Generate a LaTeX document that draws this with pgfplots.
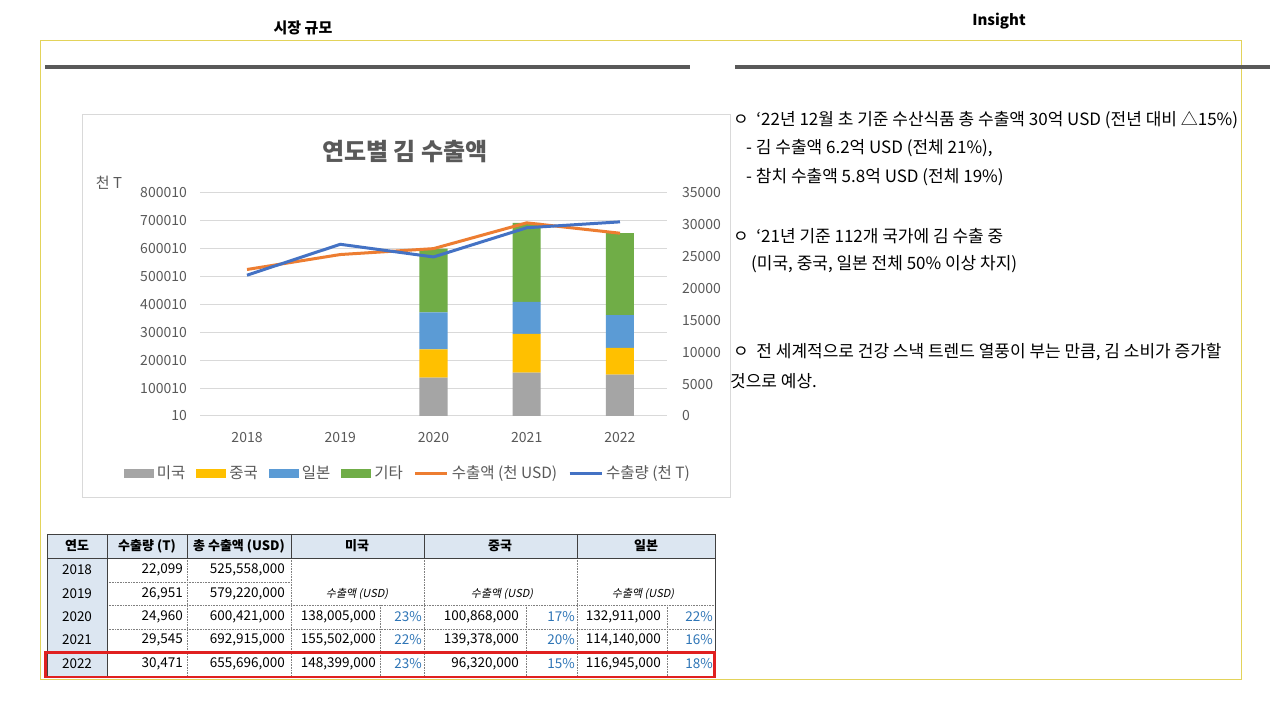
\documentclass[border=0pt]{standalone}
\usepackage{pgfplots}
\pgfplotsset{compat=1.18}
\usepackage{fontspec}
\setmainfont{Noto Sans CJK KR}
\newfontfamily\slantfont[FakeSlant=0.2]{Noto Sans CJK KR}
\definecolor{cgray}{HTML}{A5A5A5}
\definecolor{cyel}{HTML}{FFC000}
\definecolor{cblue}{HTML}{5B9BD5}
\definecolor{cgreen}{HTML}{70AD47}
\definecolor{corange}{HTML}{ED7D31}
\definecolor{lblue}{HTML}{4472C4}
\definecolor{labgray}{HTML}{595959}
\definecolor{gridgray}{HTML}{D9D9D9}
\definecolor{frameyel}{HTML}{E3D35A}
\definecolor{hdr}{HTML}{DCE6F1}
\definecolor{pct}{HTML}{2E75B6}
\definecolor{redbox}{HTML}{E02020}
\pgfplotsset{
  barleg/.style={legend image code/.code={\fill[##1] (0pt,-4.5pt) rectangle (30pt,4.5pt);}},
  lineleg/.style={legend image code/.code={\draw[##1] (0pt,0pt) -- (32pt,0pt);}},
}
\newcommand{\tf}{\fontsize{13.5}{16}\selectfont}
\newcommand{\itf}{\fontsize{17}{20}\selectfont}
\begin{document}
\begin{tikzpicture}
\path[use as bounding box, fill=white] (0pt,0pt) rectangle (1280pt,720pt);
\begin{scope}[x=1pt,y=-1pt,yshift=720pt]
  % headers
  \node[font=\fontsize{15}{18}\selectfont\bfseries] at (303,28) {시장 규모};
  \node[font=\fontsize{15}{18}\selectfont\bfseries] at (999,21) {Insight};
  \draw[frameyel, line width=1pt] (40,41) rectangle (1241,680);
  \draw[labgray, line width=4pt] (45,67) -- (690,67);
  \draw[labgray, line width=4pt] (735,67) -- (1270,67);
  % chart box
  \draw[gridgray, line width=1pt] (82,115) rectangle (730,498);
  \node[font=\fontsize{24}{28}\selectfont\bfseries, text=labgray] at (405,152) {연도별 김 수출액};
  \node[font=\fontsize{15}{17}\selectfont, text=labgray] at (109,183) {천 T};
  % insight text
  \begin{scope}[every node/.style={anchor=west, font=\itf, inner sep=0pt}]
    \node at (733,120) {ㅇ\ \ ‘22년 12월 초 기준 수산식품 총 수출액 30억 USD (전년 대비 △15\%)};
    \node at (746,148) {- 김 수출액 6.2억 USD (전체 21\%),};
    \node at (746,177) {- 참치 수출액 5.8억 USD (전체 19\%)};
    \node at (733,236) {ㅇ\ \ ‘21년 기준 112개 국가에 김 수출 중};
    \node at (751,264) {(미국, 중국, 일본 전체 50\% 이상 차지)};
    \node at (733,352) {ㅇ\ \ 전 세계적으로 건강 스낵 트렌드 열풍이 부는 만큼, 김 소비가 증가할};
    \node at (730,381) {것으로 예상.};
  \end{scope}
  % table
  \fill[hdr] (47,534) rectangle (715,558);
  \fill[hdr] (47,558) rectangle (107,676);
  \begin{scope}[densely dotted, draw=gray, line width=0.6pt]
    \draw (107,582) -- (291,582);
    \foreach \yy in {605,629,652} {\draw (107,\yy) -- (715,\yy);}
    \foreach \xx in {187,291,424,577} {\draw (\xx,558) -- (\xx,676);}
    \foreach \xx in {380,526,667} {\draw (\xx,605) -- (\xx,676);}
  \end{scope}
  \draw[black!75, line width=0.8pt] (47,534) rectangle (715,676);
  \draw[black!75, line width=0.8pt] (47,558) -- (715,558);
  \draw[black!75, line width=0.8pt] (107,534) -- (107,676);
  \foreach \xx in {187,291,424,577} {\draw[black!75, line width=0.8pt] (\xx,534) -- (\xx,558);}
  \begin{scope}[every node/.style={font=\fontsize{13}{15}\selectfont\bfseries, inner sep=0pt}]
    \node at (77,546) {연도};
    \node at (147,546) {수출량 (T)};
    \node at (239,546) {총 수출액 (USD)};
    \node at (357,546) {미국};
    \node at (500,546) {중국};
    \node at (646,546) {일본};
  \end{scope}
  \begin{scope}[every node/.style={font=\tf, inner sep=0pt}]
    \node at (77,570) {2018};
    \node at (77,594) {2019};
    \node at (77,617) {2020};
    \node at (77,640) {2021};
    \node at (77,664) {2022};
    \node[anchor=east] at (183,570) {22,099};
    \node[anchor=east] at (183,594) {26,951};
    \node[anchor=east] at (183,617) {24,960};
    \node[anchor=east] at (183,640) {29,545};
    \node[anchor=east] at (183,664) {30,471};
    \node[anchor=east] at (285,570) {525,558,000};
    \node[anchor=east] at (285,594) {579,220,000};
    \node[anchor=east] at (285,617) {600,421,000};
    \node[anchor=east] at (285,640) {692,915,000};
    \node[anchor=east] at (285,664) {655,696,000};
    \node[anchor=east] at (376,617) {138,005,000};
    \node[anchor=east] at (376,640) {155,502,000};
    \node[anchor=east] at (376,664) {148,399,000};
    \node[anchor=east] at (519,617) {100,868,000};
    \node[anchor=east] at (519,640) {139,378,000};
    \node[anchor=east] at (519,664) {96,320,000};
    \node[anchor=east] at (661,617) {132,911,000};
    \node[anchor=east] at (661,640) {114,140,000};
    \node[anchor=east] at (661,664) {116,945,000};
    \node[anchor=east, text=pct] at (422,617) {23\%};
    \node[anchor=east, text=pct] at (422,640) {22\%};
    \node[anchor=east, text=pct] at (422,664) {23\%};
    \node[anchor=east, text=pct] at (575,617) {17\%};
    \node[anchor=east, text=pct] at (575,640) {20\%};
    \node[anchor=east, text=pct] at (575,664) {15\%};
    \node[anchor=east, text=pct] at (713,617) {22\%};
    \node[anchor=east, text=pct] at (713,640) {16\%};
    \node[anchor=east, text=pct] at (713,664) {18\%};
  \end{scope}
  \begin{scope}[every node/.style={font=\fontsize{11}{13}\selectfont\slantfont, inner sep=0pt}]
    \node at (357,594) {수출액 (USD)};
    \node at (502,594) {수출액 (USD)};
    \node at (643,594) {수출액 (USD)};
  \end{scope}
  \draw[redbox, line width=2.5pt] (45.5,652.5) rectangle (714.5,677);
\end{scope}
% ---- chart: bars (left axis)
\begin{axis}[
  at={(200.4pt,304pt)}, anchor=south west, scale only axis,
  width=466.2pt, height=223pt,
  xmin=-0.5, xmax=4.5, ymin=10, ymax=800010,
  ybar stacked, bar width=28pt,
  xtick={0,1,2,3,4}, xticklabels={2018,2019,2020,2021,2022},
  ytick={10,100010,200010,300010,400010,500010,600010,700010,800010},
  yticklabels={10,100010,200010,300010,400010,500010,600010,700010,800010},
  scaled y ticks=false,
  axis line style={draw=none}, major tick style={draw=none},
  ymajorgrids, grid style={draw=gridgray, line width=1pt},
  tick label style={font=\fontsize{14}{16}\selectfont, text=labgray},
  yticklabel style={xshift=-10pt},
  xticklabel style={yshift=-13pt},
  legend style={at={(0.445,-0.256)}, anchor=center, draw=none, fill=none,
    legend columns=-1, font=\fontsize{15.5}{18}\selectfont, text=labgray,
    /tikz/every even column/.append style={column sep=9pt},
    /tikz/every odd column/.append style={column sep=1pt}},
]
\addplot[fill=cgray, draw=none, barleg] coordinates {(2,138005) (3,155502) (4,148399)};
\addlegendentry{미국}
\addplot[fill=cyel, draw=none, barleg] coordinates {(2,100868) (3,139378) (4,96320)};
\addlegendentry{중국}
\addplot[fill=cblue, draw=none, barleg] coordinates {(2,132911) (3,114140) (4,116945)};
\addlegendentry{일본}
\addplot[fill=cgreen, draw=none, barleg] coordinates {(2,228637) (3,283895) (4,294032)};
\addlegendentry{기타}
\addlegendimage{lineleg, corange, line width=3pt}
\addlegendentry{수출액 (천 USD)}
\addlegendimage{lineleg, lblue, line width=3pt}
\addlegendentry{수출량 (천 T)}
\end{axis}
% ---- orange line (left axis scale)
\begin{axis}[
  at={(200.4pt,304pt)}, anchor=south west, scale only axis,
  width=466.2pt, height=223pt,
  xmin=-0.5, xmax=4.5, ymin=10, ymax=800010,
  hide axis,
]
\addplot[corange, line width=3pt, no marks] coordinates {(0,525558) (1,579220) (2,600421) (3,692915) (4,655696)};
\end{axis}
% ---- blue line (right axis)
\begin{axis}[
  at={(200.4pt,304pt)}, anchor=south west, scale only axis,
  width=466.2pt, height=223pt,
  xmin=-0.5, xmax=4.5, ymin=0, ymax=35000,
  axis y line*=right, axis x line=none,
  axis line style={draw=none}, major tick style={draw=none},
  ytick={0,5000,10000,15000,20000,25000,30000,35000},
  yticklabels={0,5000,10000,15000,20000,25000,30000,35000},
  scaled y ticks=false,
  yticklabel style={font=\fontsize{14}{16}\selectfont, text=labgray, xshift=12pt, anchor=west},
]
\addplot[lblue, line width=3pt, no marks] coordinates {(0,22099) (1,26951) (2,24960) (3,29545) (4,30471)};
\end{axis}
\end{tikzpicture}
\end{document}
